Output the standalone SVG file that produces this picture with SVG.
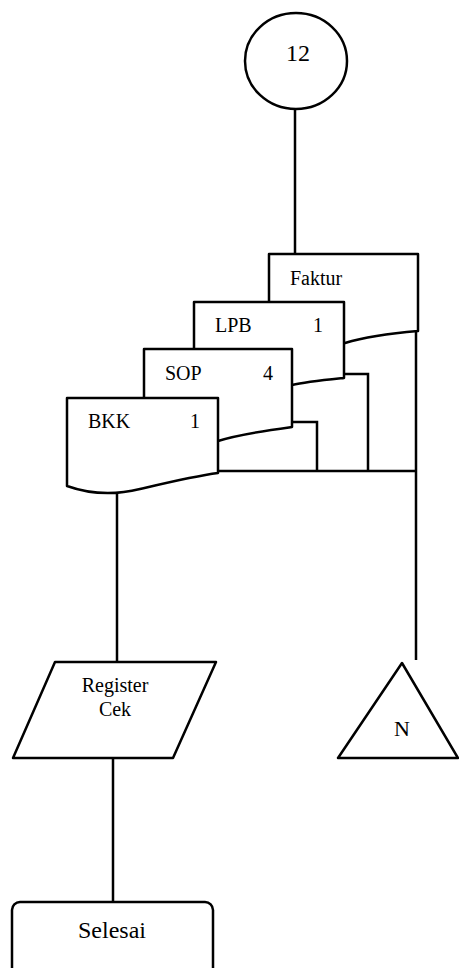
<svg xmlns="http://www.w3.org/2000/svg" width="459" height="968" viewBox="0 0 459 968">
<style>
.s{fill:#fff;stroke:#000;stroke-width:2.5;stroke-linejoin:round}
.c{fill:none;stroke:#000;stroke-width:2.5}
text{font-family:"Liberation Serif","Times New Roman",serif;fill:#000}
.l{font-size:20px}
.m{text-anchor:middle}
</style>
<rect width="459" height="968" fill="#fff"/>
<g id="connectors">
<path class="c" d="M295,109 V254"/>
<path class="c" d="M416,331 V660"/>
<path class="c" d="M218,471 H417"/>
<path class="c" d="M292,422 H317 V471"/>
<path class="c" d="M344,374 H368 V471"/>
<path class="c" d="M117,490 V662"/>
<path class="c" d="M113,758 V902"/>
</g>
<g id="start">
<ellipse class="s" cx="296" cy="61" rx="51" ry="48"/>
<text x="298" y="61" font-size="24" class="m">12</text>
</g>
<g id="faktur">
<path class="s" d="M269,254 H418 V331 C395,333 365,337 345,343 C320,350 290,350 269,345 Z"/>
<text x="290" y="285" class="l">Faktur</text>
</g>
<g id="lpb">
<path class="s" d="M194,302 H344 V378 C325,380 305,382 292,385 C260,392 220,392 194,386 Z"/>
<text x="215" y="332" class="l">LPB</text>
<text x="313" y="332" class="l">1</text>
</g>
<g id="sop">
<path class="s" d="M144,349 H292 V427 C270,430 240,434 218,441 C190,448 170,446 144,440 Z"/>
<text x="165" y="380" class="l">SOP</text>
<text x="263" y="380" class="l">4</text>
</g>
<g id="bkk">
<path class="s" d="M67,398 H218 V473 C195,476 170,482 140,489 C120,494 95,496 67,486 Z"/>
<text x="88" y="428" class="l">BKK</text>
<text x="190" y="428" class="l">1</text>
</g>
<g id="register-cek">
<path class="s" d="M55,662 H216 L173,758 H13 Z"/>
<text x="115" y="692" class="l m">Register</text>
<text x="115" y="716" class="l m">Cek</text>
</g>
<g id="n">
<path class="s" d="M402,663 L458,758 H338 Z"/>
<text x="402" y="736" font-size="22" class="m">N</text>
</g>
<g id="selesai">
<rect class="s" x="12" y="902" width="201" height="85" rx="8"/>
<text x="112" y="938" font-size="24" class="m">Selesai</text>
</g>
</svg>
